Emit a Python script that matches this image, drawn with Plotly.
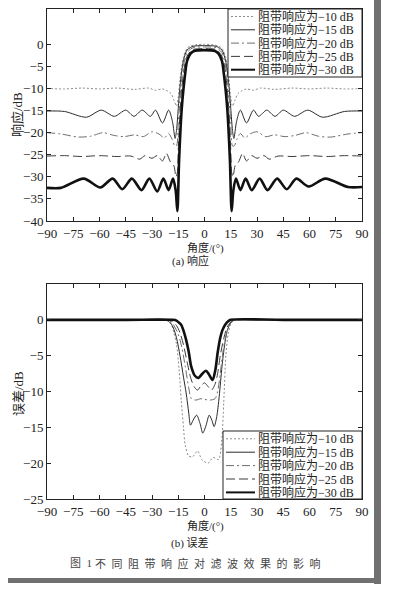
import plotly.graph_objects as go

W, H = 393, 589

# ---------------- data : panel (a) response / dB ----------------
ANG_A10 = [-90, -80, -70, -60, -50, -40, -32, -28, -24, -21, -19, -17.5, -16, -15, -14, -13, -12, -10, -8, -5, 0,
           5, 8, 10, 12, 13, 14, 15, 16, 17.5, 19, 21, 24, 28, 32, 40, 50, 60, 70, 80, 90]
RESP_A10 = [-10, -10.1, -9.9, -10.1, -9.9, -10.2, -9.9, -10.4, -10.1, -10.6, -11.2, -12.6, -14, -12, -8, -5, -2.8, -0.9, -0.4, -0.1, 0,
            -0.1, -0.4, -0.9, -2.8, -5, -8, -12, -14, -12.6, -11.2, -10.6, -10.1, -10.4, -9.9, -10.2, -9.9, -10.1, -9.9, -10.1, -10]

ANG_A15 = [-90, -80, -67.5, -59, -51.5, -45, -40.3, -35.6, -30.9, -28, -24, -20.5, -18.3, -16.8, -16, -15, -14, -13, -12, -11, -10, -8, -6, 0,
           6, 8, 10, 11, 12, 13, 14, 15, 16, 16.8, 18.3, 20.5, 24, 28, 30.9, 35.6, 40.3, 45, 51.5, 59, 67.5, 80, 90]
RESP_A15 = [-15.1, -15.2, -16.5, -14.9, -16.3, -14.9, -16.3, -14.9, -16.3, -14.9, -17.8, -14.9, -17.5, -21.3, -19.5, -14.5, -9.5, -6, -3.6, -2.2, -1.3, -0.7, -0.4, -0.3,
            -0.4, -0.7, -1.3, -2.2, -3.6, -6, -9.5, -14.5, -19.5, -21.3, -17.5, -14.9, -17.8, -14.9, -16.3, -14.9, -16.3, -14.9, -16.3, -14.9, -16.5, -15.2, -15.1]

ANG_A20 = [-90, -82, -72, -65, -58, -52, -46, -40, -35, -30, -26, -23, -20.5, -18.5, -17, -16, -15, -14, -13, -12, -11, -10, -8, -6, 0,
           6, 8, 10, 11, 12, 13, 14, 15, 16, 17, 18.5, 20.5, 23, 26, 30, 35, 40, 46, 52, 58, 65, 72, 82, 90]
RESP_A20 = [-20, -20.3, -21, -20.8, -20, -20.6, -20.9, -20.5, -20.9, -19.8, -20.3, -21.2, -20.2, -21.5, -23, -23, -18, -12, -7.5, -4.8, -3, -1.9, -1.1, -0.7, -0.6,
            -0.7, -1.1, -1.9, -3, -4.8, -7.5, -12, -18, -23, -23, -21.5, -20.2, -21.2, -20.3, -19.8, -20.9, -20.5, -20.9, -20.6, -20, -20.8, -21, -20.3, -20]

ANG_A25 = [-90, -80, -70, -60, -50, -42, -37, -34, -30, -27, -24, -21.8, -19.5, -17.5, -16.3, -15.5, -15, -14, -13, -12, -11, -10, -8, -6, 0,
           6, 8, 10, 11, 12, 13, 14, 15, 15.5, 16.3, 17.5, 19.5, 21.8, 24, 27, 30, 34, 37, 42, 50, 60, 70, 80, 90]
RESP_A25 = [-25.3, -25.2, -25.4, -25.2, -25.4, -25.3, -26, -25.2, -25.8, -25.2, -26.4, -24.7, -26.6, -27.5, -30, -29, -24, -15.5, -10, -6.5, -4, -2.7, -1.6, -1.1, -1,
            -1.1, -1.6, -2.7, -4, -6.5, -10, -15.5, -24, -29, -30, -27.5, -26.6, -24.7, -26.4, -25.2, -25.8, -25.2, -26, -25.3, -25.4, -25.2, -25.4, -25.2, -25.3]

ANG_A30 = [-90, -82, -69, -59.5, -52.5, -47, -41.5, -36, -31.5, -27, -23.5, -20.5, -18, -16.5, -15.5, -14.5, -13, -12, -11, -10, -8, -6, 0,
           6, 8, 10, 11, 12, 13, 14.5, 15.5, 16.5, 18, 20.5, 23.5, 27, 31.5, 36, 41.5, 47, 52.5, 59.5, 69, 82, 90]
RESP_A30 = [-32.5, -32.5, -30.4, -32.4, -30.4, -32.8, -30.4, -33, -30.4, -33.3, -30.4, -33, -30.4, -33, -37.8, -26, -14.5, -10, -6.5, -3.8, -2.1, -1.5, -1.3,
            -1.5, -2.1, -3.8, -6.5, -10, -14.5, -26, -37.8, -33, -30.4, -33, -30.4, -33, -30.4, -33, -30.4, -32.8, -30.4, -32.2, -30.4, -32.3, -32.3]

# ---------------- data : panel (b) error / dB ----------------
ANG_B10 = [-90, -45, -24, -21, -19, -17.5, -16, -14.5, -13.3, -12, -11, -9, -6.7, -4, -1.5, 2, 5, 8, 9.8, 11, 12.2, 13.5, 15, 16.5, 18, 45, 90]
ERR_B10 = [0, 0, 0, -0.1, -0.6, -1.8, -3.4, -7, -11.2, -15, -17.5, -19, -19.1, -18.3, -19.5, -20, -19.2, -19.5, -17, -11.5, -5, -2, -0.6, -0.1, 0, 0, 0]

ANG_B15 = [-90, -45, -23, -20, -18, -16, -14, -12, -10.5, -9, -8, -6.5, -4.5, -2.5, -1, 0.8, 2.7, 4.2, 5.5, 7, 8.4, 10, 11.5, 13, 15, 17, 20, 45, 90]
ERR_B15 = [0, 0, 0, -0.3, -1, -2.5, -5, -8, -10.2, -13, -14.7, -14, -13.3, -14.5, -15.8, -14.8, -13.3, -14, -14.9, -13.5, -10.7, -6.5, -3.5, -1.5, -0.4, 0, 0, 0, 0]

ANG_B20 = [-90, -45, -22, -19, -17, -15, -13, -11, -9, -7.5, -5, -2, 0, 3, 6, 7.5, 9, 10.5, 12, 14, 16, 18, 45, 90]
ERR_B20 = [0, 0, 0, -0.3, -1, -2, -3.8, -6.5, -9.5, -11, -11.2, -11, -11.1, -11.2, -11, -10, -7.5, -4.5, -2.5, -0.8, -0.2, 0, 0, 0]

ANG_B25 = [-90, -45, -21, -18.5, -16, -14, -12, -10, -8, -6, -4, -2, 0, 2, 4, 6, 7.5, 9, 11, 13, 15, 17, 45, 90]
ERR_B25 = [0, 0, 0, -0.2, -0.8, -1.8, -3.5, -5.8, -8, -9.3, -9.8, -9.2, -8.8, -9.3, -9.8, -9, -7.5, -5, -2.6, -1, -0.3, 0, 0, 0]

ANG_B30 = [-90, -45, -18, -16, -14.5, -13.3, -12, -10.5, -9, -7.6, -5.5, -3.5, -1.5, 0.8, 2.5, 4.6, 6.2, 7.5, 9, 10.3, 12, 13.5, 15, 45, 90]
ERR_B30 = [0, 0, 0, -0.1, -0.4, -0.7, -1.5, -2.8, -4.5, -6.5, -7.8, -8.1, -7.6, -7.1, -7.6, -8.4, -7, -4.6, -2.5, -1.4, -0.6, -0.2, 0, 0, 0]

LABELS = ["阻带响应为−10 dB", "阻带响应为−15 dB", "阻带响应为−20 dB", "阻带响应为−25 dB", "阻带响应为−30 dB"]
X_TICKS = [-90, -75, -60, -45, -30, -15, 0, 15, 30, 45, 60, 75, 90]
Y_TICKS_A = [-40, -35, -30, -25, -20, -15, -10, -5, 0]
Y_TICKS_B = [-25, -20, -15, -10, -5, 0]

# ---------------- styles ----------------
STYLES = [
    dict(color="#8c8c8c", width=1, dash="2px,2px"),
    dict(color="#2a2a2a", width=1, dash="solid"),
    dict(color="#6e6e6e", width=1, dash="8px,3px,2px,3px"),
    dict(color="#3c3c3c", width=1, dash="9px,4px"),
    dict(color="#111111", width=2.6, dash="solid"),
]

SERIF = "Liberation Serif, Noto Sans CJK SC, serif"


def px(x):
    return x / W


def py(y):
    return 1 - y / H


fig = go.Figure()
top = list(zip([ANG_A10, ANG_A15, ANG_A20, ANG_A25, ANG_A30], [RESP_A10, RESP_A15, RESP_A20, RESP_A25, RESP_A30]))
bot = list(zip([ANG_B10, ANG_B15, ANG_B20, ANG_B25, ANG_B30], [ERR_B10, ERR_B15, ERR_B20, ERR_B25, ERR_B30]))
for i, (x, y) in enumerate(top):
    fig.add_trace(go.Scatter(x=x, y=y, mode="lines", name=LABELS[i], showlegend=False,
                             line=dict(shape="spline", smoothing=0.8, **STYLES[i]), xaxis="x", yaxis="y"))
for i, (x, y) in enumerate(bot):
    fig.add_trace(go.Scatter(x=x, y=y, mode="lines", name=LABELS[i], showlegend=False,
                             line=dict(shape="spline", smoothing=0.8, **STYLES[i]), xaxis="x2", yaxis="y2"))

axis_common = dict(showgrid=False, zeroline=False, showline=True, mirror="ticks", linecolor="#222",
                   linewidth=1, ticks="inside", ticklen=4, tickcolor="#222",
                   tickfont=dict(family=SERIF, size=13, color="#222"))

fig.update_layout(
    width=W, height=H, margin=dict(l=0, r=0, t=0, b=0, autoexpand=False),
    paper_bgcolor="white", plot_bgcolor="white", showlegend=False,
    xaxis=dict(domain=[px(47), px(362)], range=[-90, 90], tickvals=X_TICKS, anchor="y", **axis_common),
    yaxis=dict(domain=[py(221), py(9)], range=[-40, 8], tickvals=Y_TICKS_A, anchor="x", **axis_common),
    xaxis2=dict(domain=[px(47), px(362)], range=[-90, 90], tickvals=X_TICKS, anchor="y2", **axis_common),
    yaxis2=dict(domain=[py(499), py(284)], range=[-25, 5], tickvals=Y_TICKS_B, anchor="x2", **axis_common),
)

shapes = []
annots = []


def legend(box, rows, x0, x1, xt):
    shapes.append(dict(type="rect", xref="paper", yref="paper", x0=px(box[0]), x1=px(box[1]),
                       y0=py(box[3]), y1=py(box[2]), fillcolor="white", line=dict(color="#222", width=1),
                       layer="above"))
    for i, r in enumerate(rows):
        st = STYLES[i]
        shapes.append(dict(type="line", xref="paper", yref="paper", x0=px(x0), x1=px(x1), y0=py(r), y1=py(r),
                           line=dict(color=st["color"], width=min(st["width"], 2), dash=st["dash"]), layer="above"))
        annots.append(dict(text=LABELS[i], xref="paper", yref="paper", x=px(xt), y=py(r), xanchor="left",
                           yanchor="middle", showarrow=False, font=dict(family=SERIF, size=12, color="#222")))


legend((228, 362, 9, 77), [16.5, 29.8, 43.1, 56.4, 69.7], 231, 255, 256)
legend((223, 362, 431, 499), [438.8, 452.2, 465.6, 479.0, 492.4], 226, 255, 256)


def text(t, x, y, size=13, angle=0, color="#222", fam=SERIF):
    annots.append(dict(text=t, xref="paper", yref="paper", x=px(x), y=py(y), xanchor="center", yanchor="middle",
                       showarrow=False, textangle=angle, font=dict(family=fam, size=size, color=color)))


text("响应/dB", 18, 115, 13, -90)
text("误差/dB", 18, 394, 13, -90)
text("角度/(°)", 205, 248.5, 11)
text("(a) 响应", 190, 261, 11)
text("角度/(°)", 205, 526, 11)
text("(b) 误差", 190, 543, 11)
text("图\u20021", 81, 563, 11, color="#444")
text("不\u2002同\u2002阻\u2002带\u2002响\u2002应\u2002对\u2002滤\u2002波\u2002效\u2002果\u2002的\u2002影\u2002响", 208, 563, 11,
     color="#444")

# scan edges
shapes.append(dict(type="rect", xref="paper", yref="paper", x0=px(374), x1=px(381), y0=py(584), y1=py(0),
                   fillcolor="#707070", line=dict(width=0), layer="below"))
shapes.append(dict(type="rect", xref="paper", yref="paper", x0=px(8), x1=px(381), y0=py(583), y1=py(578),
                   fillcolor="#707070", line=dict(width=0), layer="below"))

fig.update_layout(shapes=shapes, annotations=annots)
fig.write_html("out.html", config={"displayModeBar": False},
               post_script="document.body.style.margin='0';document.body.style.overflow='hidden';")
